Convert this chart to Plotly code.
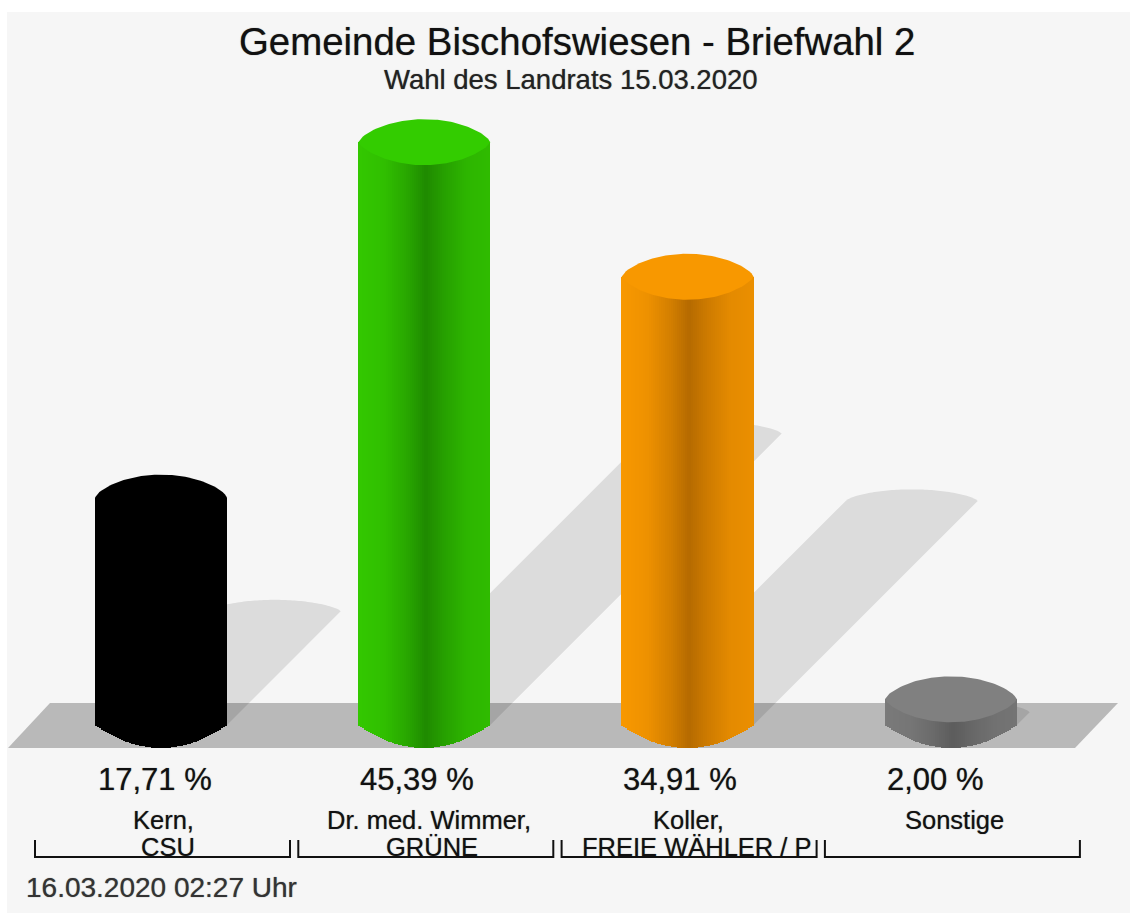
import numpy as np
import plotly.graph_objects as go

# ---- data ----
names_line1 = ["Kern,", "Dr. med. Wimmer,", "Koller,", "Sonstige"]
names_line2 = ["CSU", "GRÜNE", "FREIE WÄHLER / P", ""]
values = [17.71, 45.39, 34.91, 2.00]
value_labels = ["17,71 %", "45,39 %", "34,91 %", "2,00 %"]
cap_colors = ["#000000", "#33cc00", "#f89800", "#808080"]
edge_colors = ["#000000", "#33c800", "#f89800", "#7a7a7a"]
dark_colors = ["#000000", "#1f8a00", "#b56a00", "#5c5c5c"]
title = "Gemeinde Bischofswiesen - Briefwahl 2"
subtitle = "Wahl des Landrats 15.03.2020"
stamp = "16.03.2020 02:27 Uhr"

W, H = 1130, 913
PX_X = 263.3   # px per category
PX_Y = 12.84   # px per percent
X0, Y0 = 161.0, 725.0
xr = [(0 - X0) / PX_X, (W - X0) / PX_X]
yr = [(Y0 - H) / PX_Y, Y0 / PX_Y]
rx = 66 / PX_X
ry = 23 / PX_Y


def hexrgb(c):
    return np.array([int(c[i:i + 2], 16) for i in (1, 3, 5)], float)


def mix(a, b, t):
    v = hexrgb(a) * (1 - t) + hexrgb(b) * t
    return "rgb(%d,%d,%d)" % tuple(v.round())


def arc(u, p):
    return (1 - np.abs(u) ** 2) ** p


def path(xs, ys):
    return "M " + " L ".join(f"{a:.4f},{b:.4f}" for a, b in zip(xs, ys)) + " Z"


shapes = [dict(type="rect", xref="paper", yref="paper", layer="below",
               x0=7 / W, x1=1, y0=0, y1=1 - 12 / H, fillcolor="#f6f6f6", line=dict(width=0))]

# floor
fx = (np.array([8, 50, 1118, 1075]) - X0) / PX_X
fy = (Y0 - np.array([748, 703, 703, 748])) / PX_Y
shapes.append(dict(type="path", xref="x", yref="y", layer="below", path=path(fx, fy),
                   fillcolor="#b9b9b9", line=dict(width=0)))

# shadows
us = np.linspace(-1, 1, 61)
for i, v in enumerate(values):
    sx = 0.5 * v * PX_Y / PX_X
    sy = 0.5 * v
    top_x = i + sx + us * rx
    top_y = sy + 0.5 * ry * arc(us, 0.7)
    px = np.concatenate([[i - rx], top_x, [i + rx]])
    py = np.concatenate([[0], top_y, [0]])
    shapes.append(dict(type="path", xref="x", yref="y", layer="below", path=path(px, py),
                       fillcolor="rgba(0,0,0,0.105)", line=dict(width=0)))

fig = go.Figure()

# cylinder bodies as thin gradient slices
us_b = np.linspace(-1, 1, 67)
us_c = (us_b[:-1] + us_b[1:]) / 2
prof_u = [-1.0, -0.6, -0.25, 0.03, 0.3, 0.65, 1.0]
prof_t = [0.0, 0.15, 0.55, 1.0, 0.65, 0.3, 0.2]
dark = np.interp(us_c, prof_u, prof_t)
for i, v in enumerate(values):
    low = -ry * arc(us_c, 1.0)
    fig.add_trace(go.Bar(
        x=i + us_c * rx,
        y=v - low,
        base=low,
        width=(us_b[1] - us_b[0]) * rx * 1.12,
        marker=dict(color=[mix(edge_colors[i], dark_colors[i], t) for t in dark], line=dict(width=0)),
        hoverinfo="skip",
    ))

# cylinder caps
for i, v in enumerate(values):
    cx = i + np.concatenate([us, us[::-1]]) * rx
    cy = v + np.concatenate([ry * arc(us, 0.7), -ry * arc(us[::-1], 0.75)])
    fig.add_trace(go.Scatter(x=cx, y=cy, mode="lines", fill="toself", fillcolor=cap_colors[i],
                             line=dict(width=0), hoverinfo="skip"))

# brackets under the categories
for i in range(len(values)):
    left = i + (35 - 161) / PX_X
    right = i + (290 - 161) / PX_X
    fig.add_trace(go.Scatter(x=[left, left, right, right],
                             y=[(Y0 - 840) / PX_Y, (Y0 - 857) / PX_Y, (Y0 - 857) / PX_Y, (Y0 - 840) / PX_Y],
                             mode="lines", line=dict(color="#111111", width=2), hoverinfo="skip"))

FONT = "Liberation Sans"
BLUR = "0 0 1px rgba(0,0,0,0.55)"


def label(x, y, text, size, color="#111111"):
    return dict(x=x / W, y=1 - y / H, text=text, xref="paper", yref="paper",
                xanchor="center", yanchor="middle", showarrow=False, align="center",
                font=dict(size=size, color=color, family=FONT, shadow=BLUR))


ann = [label(577, 41, title, 38.4),
       label(571, 79, subtitle, 27.5, "#222222"),
       label(161, 887, stamp, 28, "#333333")]
val_x = [155, 417, 680, 935]
name1_x = [163, 429, 688, 954]
name2_x = [168, 432, 697, 954]
for i in range(len(values)):
    ann.append(label(val_x[i], 779, value_labels[i], 31))
    ann.append(label(name1_x[i], 820, names_line1[i], 25.5))
    if names_line2[i]:
        ann.append(label(name2_x[i], 847, names_line2[i], 25.5))

fig.update_layout(
    width=W, height=H, margin=dict(l=0, r=0, t=0, b=0),
    paper_bgcolor="#ffffff", plot_bgcolor="rgba(0,0,0,0)",
    barmode="overlay", showlegend=False, bargap=0,
    xaxis=dict(range=xr, visible=False, fixedrange=True),
    yaxis=dict(range=yr, visible=False, fixedrange=True),
    annotations=ann,
    shapes=shapes,
)
fig.write_html("out.html", config=dict(displayModeBar=False),
               post_script="document.body.style.margin='0';document.body.style.overflow='hidden';")
